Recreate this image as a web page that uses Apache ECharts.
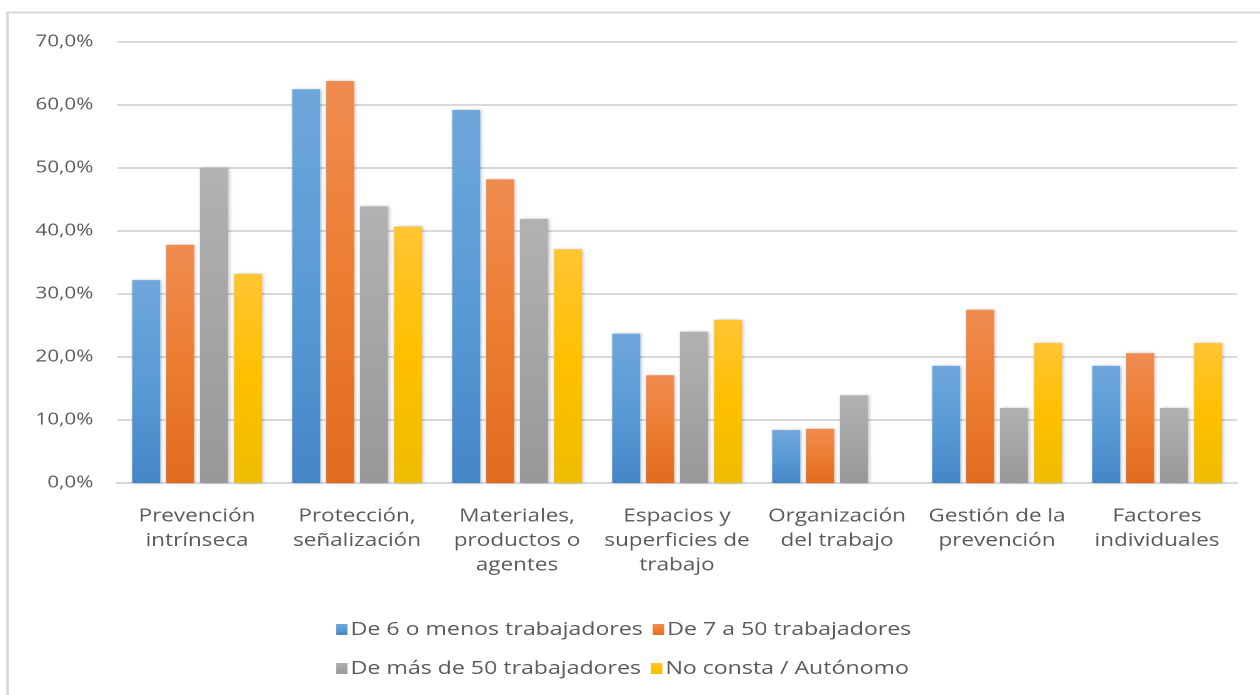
<!DOCTYPE html>
<html>
<head>
<meta charset="utf-8">
<script src="https://cdn.jsdelivr.net/npm/echarts@6/dist/echarts.min.js"></script>
<style>
	html, body { margin: 0; padding: 0; background: #fff; overflow: hidden; }
	/* el original es un grafico de Excel estirado en horizontal */
	#chart { width: 1008px; height: 695px; transform: scaleX(1.25); transform-origin: 0 0; }
</style>
</head>
<body>
<div id="chart"></div>
<script type="text/javascript">

	// categorias (eje x)
	var categorias = [
		'Prevención\nintrínseca',
		'Protección,\nseñalización',
		'Materiales,\nproductos o\nagentes',
		'Espacios y\nsuperficies de\ntrabajo',
		'Organización\ndel trabajo',
		'Gestión de la\nprevención',
		'Factores\nindividuales'
	];

	// valores en %
	var menos6   = [32.2, 62.5, 59.2, 23.7, 8.4, 18.6, 18.6];
	var de7a50   = [37.8, 63.8, 48.2, 17.1, 8.6, 27.5, 20.6];
	var mas50    = [50.0, 43.9, 41.9, 24.0, 13.9, 11.9, 11.9];
	var noConsta = [33.2, 40.7, 37.1, 25.9, 0.0, 22.2, 22.2];

	var nombres = [
		'De 6 o menos trabajadores',
		'De 7 a 50 trabajadores',
		'De más de 50 trabajadores',
		'No consta / Autónomo'
	];

	var fuente = '"Open Sans", "Noto Sans", sans-serif';

	function degradado(arriba, medio, abajo) {
		return new echarts.graphic.LinearGradient(0, 0, 0, 1, [
			{offset: 0, color: arriba},
			{offset: 0.5, color: medio},
			{offset: 1, color: abajo}
		]);
	}

	function serie(nombre, datos, color) {
		return {
			name: nombre,
			type: 'bar',
			barWidth: 22.4,
			barGap: '21%',
			data: datos,
			itemStyle: {
				color: color,
				shadowColor: 'rgba(0,0,0,0.25)',
				shadowBlur: 3,
				shadowOffsetX: 1,
				shadowOffsetY: 0
			}
		};
	}

	function leyenda(datos, top) {
		return {
			data: datos,
			left: 264,
			top: top,
			itemWidth: 9,
			itemHeight: 11,
			itemGap: 8,
			icon: 'rect',
			textStyle: { fontSize: 18.5, color: '#595959', fontFamily: fuente, padding: [0, 0, 0, -2.5] }
		};
	}

	var chart = echarts.init(document.getElementById('chart'), null, { devicePixelRatio: 2 });

	chart.setOption({
		animation: false,
		textStyle: { fontFamily: fuente },
		color: ['#5b9bd5', '#ed7d31', '#a5a5a5', '#ffc000'],
		graphic: [{
			type: 'rect',
			shape: { x: 6, y: 12.5, width: 1050, height: 720 },
			style: { fill: 'none', stroke: '#d9d9d9', lineWidth: 2 },
			silent: true
		}],
		grid: {
			left: 93.6,
			right: 18.4,
			top: 42,
			bottom: 212
		},
		legend: [
			leyenda([nombres[0], nombres[1]], 615),
			leyenda([nombres[2], nombres[3]], 654)
		],
		xAxis: {
			type: 'category',
			data: categorias,
			axisTick: { show: false },
			axisLine: { lineStyle: { color: '#d9d9d9', width: 2 } },
			axisLabel: {
				interval: 0,
				margin: 21,
				fontSize: 18,
				lineHeight: 24.5,
				color: '#595959',
				fontFamily: fuente
			}
		},
		yAxis: {
			type: 'value',
			min: 0,
			max: 70,
			interval: 10,
			axisLine: { show: false },
			axisTick: { show: false },
			splitLine: { lineStyle: { color: '#d9d9d9', width: 2 } },
			axisLabel: {
				margin: 19,
				fontSize: 16.5,
				color: '#595959',
				fontFamily: fuente,
				formatter: function (v) { return v.toFixed(1).replace('.', ',') + '%'; }
			}
		},
		series: [
			serie(nombres[0], menos6, degradado('#6fa7dc', '#5b9bd5', '#4686c6')),
			serie(nombres[1], de7a50, degradado('#f08c50', '#ed7d31', '#e26b1f')),
			serie(nombres[2], mas50, degradado('#b2b2b2', '#a5a5a5', '#989898')),
			serie(nombres[3], noConsta, degradado('#ffc533', '#ffc000', '#efbd00'))
		]
	});

</script>
</body>
</html>
